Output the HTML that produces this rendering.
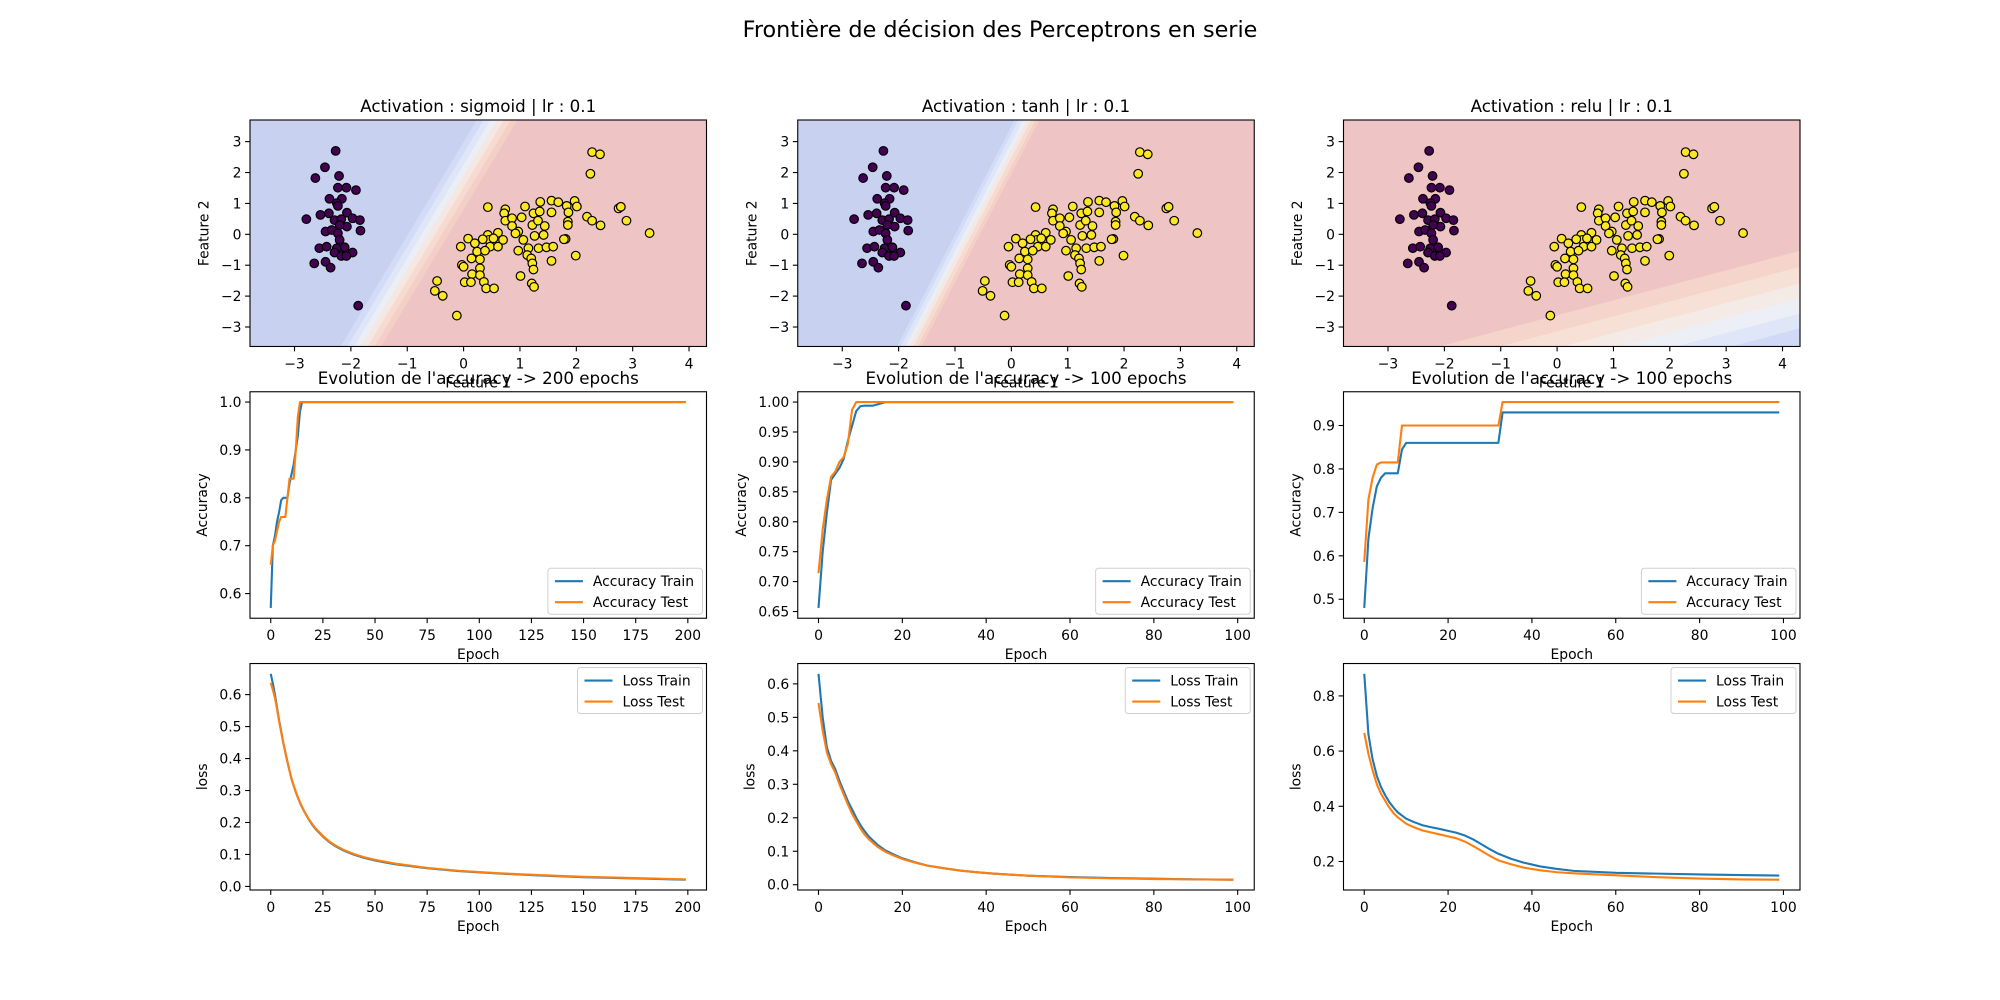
<!DOCTYPE html>
<html><head><meta charset="utf-8"><style>
html,body{margin:0;padding:0;background:#fff;}
svg{display:block;font-family:"DejaVu Sans","Liberation Sans",sans-serif;}
</style></head><body>
<svg id="fig" width="2000" height="1000" viewBox="0 0 2000 1000" xmlns="http://www.w3.org/2000/svg">
<rect width="2000" height="1000" fill="#fff"/>
<text x="1000" y="37" font-size="22.3" text-anchor="middle">Frontière de décision des Perceptrons en serie</text>
</svg>
<script>
// ---------- data ----------
const purpleX=[-2.27,-2.46,-2.63,-2.21,-2.23,-2.08,-1.91,-2.38,-2.16,-2.25,-2.23,-2.39,-2.07,-2.54,-2.79,-2.29,-2.17,-1.97,-1.84,-2.45,-2.34,-2.07,-2.20,-1.83,-2.23,-2.20,-2.56,-2.43,-2.25,-2.11,-1.97,-2.29,-2.17,-2.08,-2.65,-2.45,-2.36,-1.87];
const purpleY=[2.70,2.17,1.82,1.89,1.51,1.51,1.43,1.15,1.15,1.01,0.92,0.68,0.70,0.63,0.49,0.46,0.49,0.52,0.46,0.09,0.14,0.25,0.30,0.12,0.03,-0.18,-0.45,-0.40,-0.45,-0.42,-0.59,-0.59,-0.70,-0.70,-0.94,-0.89,-1.08,-2.31];
const yellowX=[2.28,2.42,2.25,1.56,1.68,1.83,1.97,2.01,1.36,1.09,0.43,0.74,1.24,1.56,1.35,2.19,2.28,2.43,2.75,2.79,2.89,3.30,1.86,1.85,1.85,1.22,1.44,1.32,1.03,0.72,0.74,0.86,0.86,0.97,0.92,0.61,0.43,0.45,0.53,0.70,1.06,1.26,1.42,1.81,1.78,0.08,-0.05,0.20,0.34,0.47,0.61,0.24,0.38,0.97,1.15,1.33,1.47,1.59,0.14,0.29,1.13,1.20,1.22,1.24,1.56,1.99,-0.03,0.00,0.29,0.15,0.29,1.01,-0.47,-0.51,-0.37,0.02,0.13,0.36,0.40,0.54,1.21,1.25,-0.12];
const yellowY=[2.66,2.59,1.96,1.09,1.04,0.92,1.08,0.90,1.05,0.90,0.88,0.81,0.68,0.71,0.74,0.57,0.44,0.29,0.84,0.89,0.44,0.04,0.71,0.41,0.30,0.30,0.27,0.44,0.55,0.68,0.44,0.52,0.27,0.09,0.03,0.05,-0.02,-0.18,-0.13,-0.18,-0.18,-0.05,-0.02,-0.15,-0.16,-0.14,-0.40,-0.29,-0.16,-0.40,-0.40,-0.56,-0.53,-0.53,-0.45,-0.45,-0.42,-0.40,-0.78,-0.81,-0.67,-0.78,-0.94,-1.14,-0.86,-0.69,-0.99,-1.05,-1.10,-1.29,-1.32,-1.35,-1.51,-1.83,-1.99,-1.55,-1.55,-1.54,-1.75,-1.75,-1.59,-1.70,-2.63];
const scatterXTicks=[-3,-2,-1,0,1,2,3,4];
const scatterYTicks=[-3,-2,-1,0,1,2,3];

const sigAccTrainHead=[0.57,0.70,0.72,0.75,0.77,0.795,0.80,0.80,0.80,0.83,0.85,0.87,0.90,0.93,0.98,1.0];
const sigAccTestHead=[0.66,0.70,0.71,0.73,0.75,0.76,0.76,0.76,0.80,0.84,0.84,0.84,0.90,0.97,1.0];
const sigEpochs=200;
const tanhAccTrainHead=[0.656,0.75,0.815,0.87,0.88,0.89,0.905,0.935,0.96,0.985,0.993,0.994,0.994,0.994,0.996,0.998,1.0];
const tanhAccTestHead=[0.714,0.787,0.837,0.875,0.884,0.90,0.908,0.93,0.987,1.0];
const tanhEpochs=100;
const reluAccTrainHead=[0.48,0.64,0.71,0.76,0.78,0.79,0.79,0.79,0.79,0.845,0.86,0.86,0.86,0.86,0.86,0.86,0.86,0.86,0.86,0.86,0.86,0.86,0.86,0.86,0.86,0.86,0.86,0.86,0.86,0.86,0.86,0.86,0.86,0.93];
const reluAccTestHead=[0.586,0.73,0.78,0.81,0.815,0.815,0.815,0.815,0.815,0.90,0.90,0.90,0.90,0.90,0.90,0.90,0.90,0.90,0.90,0.90,0.90,0.90,0.90,0.90,0.90,0.90,0.90,0.90,0.90,0.90,0.90,0.90,0.90,0.954];
const reluEpochs=100;

const sigLossEpochs=[0,1,2,3,4,5,6,7,8,9,10,11,12,13,14,15,16,18,20,22,25,28,31,35,40,45,50,60,75,90,110,130,150,175,199];
const sigLossTrain=[0.665,0.635,0.60,0.56,0.52,0.485,0.45,0.42,0.39,0.362,0.335,0.315,0.295,0.278,0.262,0.248,0.235,0.212,0.192,0.176,0.156,0.139,0.126,0.112,0.099,0.089,0.081,0.069,0.057,0.048,0.04,0.034,0.029,0.025,0.021];
const sigLossTest=[0.637,0.615,0.59,0.555,0.517,0.483,0.449,0.419,0.39,0.362,0.336,0.316,0.296,0.279,0.263,0.249,0.236,0.213,0.194,0.178,0.158,0.141,0.128,0.114,0.101,0.091,0.083,0.071,0.058,0.049,0.041,0.035,0.030,0.026,0.022];
const tanhLossEpochs=[0,1,2,3,4,5,6,7,8,9,10,11,12,14,16,18,20,23,26,30,34,38,42,50,60,70,80,90,99];
const tanhLossTrain=[0.63,0.50,0.41,0.37,0.345,0.31,0.28,0.25,0.225,0.20,0.178,0.16,0.144,0.12,0.102,0.09,0.079,0.067,0.057,0.049,0.042,0.037,0.033,0.027,0.023,0.020,0.018,0.016,0.015];
const tanhLossTest=[0.543,0.46,0.395,0.36,0.335,0.30,0.27,0.24,0.212,0.19,0.168,0.15,0.136,0.114,0.098,0.087,0.077,0.066,0.057,0.049,0.042,0.037,0.033,0.027,0.022,0.019,0.017,0.016,0.015];
const reluLossEpochs=[0,1,2,3,4,5,6,7,8,10,12,14,16,18,20,22,24,26,28,30,32,35,38,42,46,50,60,70,80,90,99];
const reluLossTrain=[0.88,0.66,0.57,0.51,0.47,0.44,0.415,0.395,0.378,0.355,0.342,0.331,0.324,0.318,0.311,0.304,0.294,0.28,0.262,0.244,0.228,0.21,0.196,0.182,0.173,0.166,0.159,0.156,0.153,0.151,0.149];
const reluLossTest=[0.666,0.59,0.53,0.48,0.445,0.42,0.395,0.375,0.36,0.337,0.323,0.312,0.305,0.298,0.291,0.284,0.272,0.256,0.238,0.22,0.204,0.19,0.178,0.168,0.161,0.157,0.15,0.143,0.138,0.135,0.134];

const sigAccYTicks=[0.6,0.7,0.8,0.9,1.0];
const sigAccYLabels=["0.6","0.7","0.8","0.9","1.0"];
const tanhAccYTicks=[0.65,0.70,0.75,0.80,0.85,0.90,0.95,1.00];
const tanhAccYLabels=["0.65","0.70","0.75","0.80","0.85","0.90","0.95","1.00"];
const reluAccYTicks=[0.5,0.6,0.7,0.8,0.9];
const reluAccYLabels=["0.5","0.6","0.7","0.8","0.9"];
const lossYTicks=[0.0,0.1,0.2,0.3,0.4,0.5,0.6];
const lossYLabels=["0.0","0.1","0.2","0.3","0.4","0.5","0.6"];
const reluLossYTicks=[0.2,0.4,0.6,0.8];
const reluLossYLabels=["0.2","0.4","0.6","0.8"];
const x200Ticks=[0,25,50,75,100,125,150,175,200];
const x100Ticks=[0,20,40,60,80,100];

// ---------- helpers ----------
const NS="http://www.w3.org/2000/svg";
const svg=document.getElementById('fig');
function el(tag,attrs,parent){const e=document.createElementNS(NS,tag);for(const k in attrs)e.setAttribute(k,attrs[k]);(parent||svg).appendChild(e);return e;}
function fmt(v){return (v<0?"\u2212":"")+Math.abs(v);}
const COLS=[250,797.75,1343.5],W=456.5;
const ROWS=[120,391.76,663.53],H=226.47;
const FS=13.9;

function makeAxes(ci,ri,xmin,xmax,ymin,ymax,name){
  const L=COLS[ci],T=ROWS[ri];
  const g=el('g',{});
  
  
  const sx=v=>L+(v-xmin)/(xmax-xmin)*W;
  const sy=v=>T+H-(v-ymin)/(ymax-ymin)*H;
  const cid='clip'+ci+ri;
  const cp=el('clipPath',{id:cid},g);el('rect',{x:L,y:T,width:W,height:H},cp);
  const plot=el('g',{'clip-path':'url(#'+cid+')'},g);
  return {L,T,g,plot,sx,sy};
}
function finishAxes(ax,xt,xl,yt,yl,title,xlabel,ylabel){
  const {L,T,g,sx,sy}=ax;
  const fr=el('rect',{x:L,y:T,width:W,height:H,fill:'none',stroke:'#000','stroke-width':1.1},g);
  
  xt.forEach((v,i)=>{const x=sx(v);el('line',{x1:x,x2:x,y1:T+H,y2:T+H+4.9,stroke:'#000','stroke-width':1.1},g);
    const t=el('text',{x:x,y:T+H+22,'font-size':FS,'text-anchor':'middle'},g);t.textContent=xl[i];
    });
  let maxw=0;
  yt.forEach((v,i)=>{const y=sy(v);el('line',{x1:L-4.9,x2:L,y1:y,y2:y,stroke:'#000','stroke-width':1.1},g);
    const t=el('text',{x:L-8.5,y:y+5,'font-size':FS,'text-anchor':'end'},g);t.textContent=yl[i];
    
    let w=0;try{w=t.getComputedTextLength();}catch(e){w=yl[i].length*8.2;}
    if(!w)w=yl[i].length*8.2;maxw=Math.max(maxw,w);});
  if(title){const tt=el('text',{x:L+W/2,y:T-8,'font-size':16.7,'text-anchor':'middle'},g);tt.textContent=title;
  }
  const xlab=el('text',{x:L+W/2,y:T+H+41,'font-size':FS,'text-anchor':'middle'},g);xlab.textContent=xlabel;
  
  const yx=L-8.5-maxw-12.5;const ylab=el('text',{x:yx,y:T+H/2,'font-size':FS,'text-anchor':'middle',transform:'rotate(-90 '+yx+' '+(T+H/2)+')'},g);ylab.textContent=ylabel;
  
}
function clipPoly(poly,f,lvl,keepAbove){
  const out=[];const n=poly.length;
  for(let i=0;i<n;i++){const a=poly[i],b=poly[(i+1)%n];
    const fa=f(a[0],a[1])-lvl,fb=f(b[0],b[1])-lvl;
    const ina=keepAbove?fa>=0:fa<0,inb=keepAbove?fb>=0:fb<0;
    if(ina)out.push(a);
    if(ina!==inb){const t=fa/(fa-fb);out.push([a[0]+t*(b[0]-a[0]),a[1]+t*(b[1]-a[1])]);}
  }
  return out;
}
function scatterPanel(ci,title,f,levels,colors,name){
  const xmin=-3.79,xmax=4.31,ymin=-3.63,ymax=3.70;
  const ax=makeAxes(ci,0,xmin,xmax,ymin,ymax,name);
  const rect=[[xmin,ymin],[xmax,ymin],[xmax,ymax],[xmin,ymax]];
  for(let i=0;i<colors.length;i++){
    let p=rect;
    if(i>0)p=clipPoly(p,f,levels[i-1],true);
    if(i<levels.length)p=clipPoly(p,f,levels[i],false);
    if(p.length<3)continue;
    const poly=el('polygon',{points:p.map(q=>ax.sx(q[0])+','+ax.sy(q[1])).join(' '),fill:colors[i],stroke:colors[i],'stroke-width':0.5},ax.plot);
    
  }
  function pts(X,Y,col,nm){X.forEach((x,i)=>{const c=el('circle',{cx:ax.sx(x),cy:ax.sy(Y[i]),r:4.3,fill:col,stroke:'#000','stroke-width':1.2},ax.plot);
    });}
  pts(purpleX,purpleY,'#440154','class-0-point');
  pts(yellowX,yellowY,'#fde725','class-1-point');
  finishAxes(ax,scatterXTicks,scatterXTicks.map(fmt),scatterYTicks,scatterYTicks.map(fmt),title,'Feature 1','Feature 2');
}
function expand(head,n){const a=[];for(let i=0;i<n;i++)a.push(i<head.length?head[i]:head[head.length-1]);return a;}
function range(n){const a=[];for(let i=0;i<n;i++)a.push(i);return a;}
function linePanel(ci,ri,series,xt,yt,yl,title,ylabel,legendPos,name){
  let xs=[],ys=[];series.forEach(s=>{xs=xs.concat(s.x);ys=ys.concat(s.y);});
  const x0=Math.min(...xs),x1=Math.max(...xs),y0=Math.min(...ys),y1=Math.max(...ys);
  const px=(x1-x0)*0.05,py=(y1-y0)*0.05;
  const ax=makeAxes(ci,ri,x0-px,x1+px,y0-py,y1+py,name);
  series.forEach(s=>{const pl=el('polyline',{points:s.x.map((x,i)=>ax.sx(x)+','+ax.sy(s.y[i])).join(' '),fill:'none',stroke:s.color,'stroke-width':2.1,'stroke-linejoin':'round'},ax.plot);
    });
  finishAxes(ax,xt,xt.map(String),yt,yl,title,'Epoch',ylabel);
  const lw=Math.max(...series.map(s=>s.label.length))*7.4+51;
  const lh=46;const bx=ax.L+W-4-lw;const by=legendPos==='lower'?ax.T+H-4-lh:ax.T+4;
  const lg=el('g',{},ax.g);
  
  el('rect',{x:bx,y:by,width:lw,height:lh,rx:3,fill:'#fff','fill-opacity':0.8,stroke:'#d0d0d0'},lg);
  series.forEach((s,i)=>{const yy=by+13+i*21;
    el('line',{x1:bx+7,x2:bx+35,y1:yy,y2:yy,stroke:s.color,'stroke-width':2.1},lg);
    const t=el('text',{x:bx+45,y:yy+5,'font-size':FS},lg);t.textContent=s.label;
    });
}

// ---------- build ----------
const sigCol=['#c9d1f1','#d3dcf7','#dfe6f8','#ebeef5','#f5e7e1','#f7dbd0','#f3cfc6','#eec4c4'];
scatterPanel(0,'Activation : sigmoid | lr : 0.1',(x,y)=>x-(-0.62+0.33*y),[-0.36,-0.24,-0.12,0,0.12,0.24,0.36],sigCol,'sigmoid-decision-plot');
scatterPanel(1,'Activation : tanh | lr : 0.1',(x,y)=>x-(-0.77+0.285*y),[-0.22,-0.15,-0.07,0,0.07,0.15,0.22],sigCol,'tanh-decision-plot');
scatterPanel(2,'Activation : relu | lr : 0.1',(x,y)=>y-(0.484*x-2.61),[-2.51,-2.03,-1.54,-1.06,-0.52,0],['#d0d9f6','#dfe6f8','#eceff6','#f5ebe6','#f7e0d6','#f4d4cb','#eec4c4'],'relu-decision-plot');

const B='#1f77b4',O='#ff7f0e';
linePanel(0,1,[{x:range(sigEpochs),y:expand(sigAccTrainHead,sigEpochs),color:B,label:'Accuracy Train',name:'accuracy-train-line'},{x:range(sigEpochs),y:expand(sigAccTestHead,sigEpochs),color:O,label:'Accuracy Test',name:'accuracy-test-line'}],x200Ticks,sigAccYTicks,sigAccYLabels,"Evolution de l'accuracy -> 200 epochs",'Accuracy','lower','sigmoid-accuracy-chart');
linePanel(1,1,[{x:range(tanhEpochs),y:expand(tanhAccTrainHead,tanhEpochs),color:B,label:'Accuracy Train',name:'accuracy-train-line'},{x:range(tanhEpochs),y:expand(tanhAccTestHead,tanhEpochs),color:O,label:'Accuracy Test',name:'accuracy-test-line'}],x100Ticks,tanhAccYTicks,tanhAccYLabels,"Evolution de l'accuracy -> 100 epochs",'Accuracy','lower','tanh-accuracy-chart');
linePanel(2,1,[{x:range(reluEpochs),y:expand(reluAccTrainHead,reluEpochs),color:B,label:'Accuracy Train',name:'accuracy-train-line'},{x:range(reluEpochs),y:expand(reluAccTestHead,reluEpochs),color:O,label:'Accuracy Test',name:'accuracy-test-line'}],x100Ticks,reluAccYTicks,reluAccYLabels,"Evolution de l'accuracy -> 100 epochs",'Accuracy','lower','relu-accuracy-chart');
linePanel(0,2,[{x:sigLossEpochs,y:sigLossTrain,color:B,label:'Loss Train',name:'loss-train-line'},{x:sigLossEpochs,y:sigLossTest,color:O,label:'Loss Test',name:'loss-test-line'}],x200Ticks,lossYTicks,lossYLabels,'','loss','upper','sigmoid-loss-chart');
linePanel(1,2,[{x:tanhLossEpochs,y:tanhLossTrain,color:B,label:'Loss Train',name:'loss-train-line'},{x:tanhLossEpochs,y:tanhLossTest,color:O,label:'Loss Test',name:'loss-test-line'}],x100Ticks,lossYTicks,lossYLabels,'','loss','upper','tanh-loss-chart');
linePanel(2,2,[{x:reluLossEpochs,y:reluLossTrain,color:B,label:'Loss Train',name:'loss-train-line'},{x:reluLossEpochs,y:reluLossTest,color:O,label:'Loss Test',name:'loss-test-line'}],x100Ticks,reluLossYTicks,reluLossYLabels,'','loss','upper','relu-loss-chart');
</script>
</body></html>
